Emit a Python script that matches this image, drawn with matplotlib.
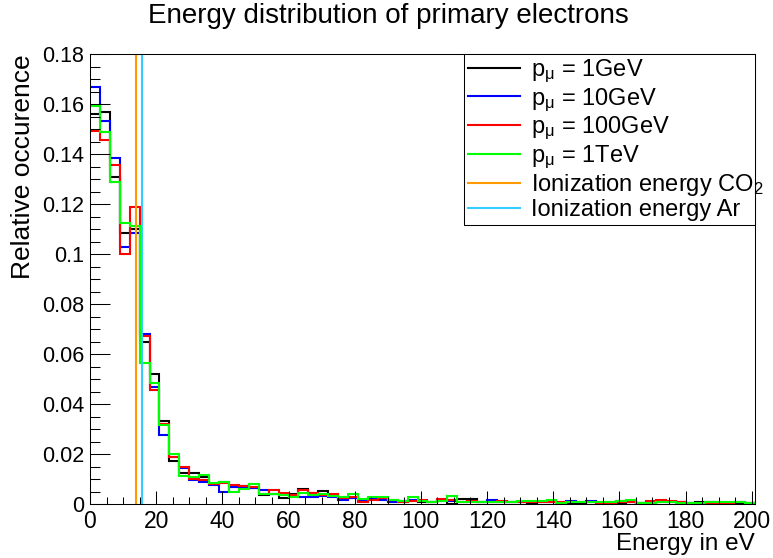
import numpy as np
import matplotlib
matplotlib.use('Agg')
import matplotlib.pyplot as plt
from matplotlib.ticker import MultipleLocator, FuncFormatter

plt.rcParams['font.family'] = ['Liberation Sans', 'DejaVu Sans']
plt.rcParams['mathtext.fontset'] = 'custom'
plt.rcParams['mathtext.rm'] = 'Liberation Sans'
plt.rcParams['mathtext.it'] = 'Liberation Sans'
plt.rcParams['mathtext.bf'] = 'Liberation Sans:bold'

# histogram binning: 3 eV bins from 0 to 201 eV
bin_edges = np.arange(0, 202, 3)

# relative occurence per bin
h_1gev = [0.1560, 0.1567, 0.1310, 0.1086, 0.1100, 0.0648, 0.0520, 0.0334, 0.0174, 0.0125,
          0.0124, 0.0108, 0.0083, 0.0090, 0.0070, 0.0072, 0.0067, 0.0036, 0.0040, 0.0026,
          0.0040, 0.0061, 0.0044, 0.0055, 0.0033, 0.0020, 0.0024, 0.0018, 0.0024, 0.0020,
          0.0011, 0.0011, 0.0013, 0.0011, 0.0011, 0.0014, 0.0003, 0.0021, 0.0020, 0.0011,
          0.0008, 0.0011, 0.0010, 0.0008, 0.0007, 0.0009, 0.0008, 0.0004, 0.0006, 0.0007,
          0.0008, 0.0005, 0.0007, 0.0006, 0.0008, 0.0005, 0.0006, 0.0009, 0.0011, 0.0009,
          0.0005, 0.0008, 0.0011, 0.0006, 0.0005, 0.0007, 0.0004]
h_10gev = [0.1667, 0.1533, 0.1383, 0.1030, 0.1086, 0.0681, 0.0470, 0.0277, 0.0190, 0.0144,
           0.0097, 0.0088, 0.0077, 0.0050, 0.0070, 0.0068, 0.0067, 0.0056, 0.0040, 0.0040,
           0.0035, 0.0030, 0.0028, 0.0033, 0.0028, 0.0017, 0.0024, 0.0017, 0.0020, 0.0017,
           0.0008, 0.0015, 0.0017, 0.0013, 0.0011, 0.0017, 0.0013, 0.0008, 0.0015, 0.0011,
           0.0017, 0.0011, 0.0009, 0.0010, 0.0011, 0.0009, 0.0008, 0.0006, 0.0013, 0.0009,
           0.0015, 0.0004, 0.0008, 0.0013, 0.0010, 0.0007, 0.0009, 0.0013, 0.0011, 0.0008,
           0.0006, 0.0005, 0.0009, 0.0008, 0.0006, 0.0008, 0.0006]
h_100gev = [0.1493, 0.1456, 0.1356, 0.1001, 0.1187, 0.0673, 0.0455, 0.0320, 0.0190, 0.0150,
            0.0101, 0.0097, 0.0080, 0.0085, 0.0076, 0.0072, 0.0070, 0.0040, 0.0056, 0.0044,
            0.0037, 0.0059, 0.0044, 0.0037, 0.0040, 0.0024, 0.0028, 0.0011, 0.0017, 0.0024,
            0.0017, 0.0011, 0.0013, 0.0017, 0.0011, 0.0021, 0.0017, 0.0011, 0.0013, 0.0011,
            0.0011, 0.0013, 0.0010, 0.0011, 0.0008, 0.0009, 0.0011, 0.0008, 0.0010, 0.0008,
            0.0009, 0.0006, 0.0007, 0.0009, 0.0008, 0.0007, 0.0013, 0.0017, 0.0015, 0.0011,
            0.0006, 0.0001, 0.0006, 0.0007, 0.0004, 0.0008, 0.0006]
h_1tev = [0.1592, 0.1489, 0.1290, 0.1126, 0.1112, 0.0564, 0.0485, 0.0317, 0.0201, 0.0113,
          0.0108, 0.0117, 0.0085, 0.0090, 0.0048, 0.0061, 0.0080, 0.0040, 0.0043, 0.0036,
          0.0030, 0.0045, 0.0037, 0.0040, 0.0033, 0.0028, 0.0040, 0.0020, 0.0031, 0.0031,
          0.0017, 0.0015, 0.0028, 0.0013, 0.0008, 0.0013, 0.0033, 0.0011, 0.0011, 0.0011,
          0.0011, 0.0008, 0.0010, 0.0013, 0.0015, 0.0013, 0.0017, 0.0007, 0.0011, 0.0011,
          0.0011, 0.0008, 0.0011, 0.0015, 0.0017, 0.0007, 0.0007, 0.0011, 0.0009, 0.0007,
          0.0004, 0.0007, 0.0008, 0.0008, 0.0011, 0.0011, 0.0007]

series = [
    (h_1gev, 'black', r'p$_{\mu}$ = 1GeV'),
    (h_10gev, '#0000ff', r'p$_{\mu}$ = 10GeV'),
    (h_100gev, '#ff0000', r'p$_{\mu}$ = 100GeV'),
    (h_1tev, '#00ff00', r'p$_{\mu}$ = 1TeV'),
]

# ionization energies in eV
e_ion_co2 = 13.77
e_ion_ar = 15.76

fig = plt.figure(figsize=(7.73, 5.58), dpi=100)
ax = fig.add_axes([90 / 773, 1 - 504.3 / 558, 665 / 773, 450.3 / 558])

lw = 1.5
for vals, col, lab in series:
    ax.stairs(vals, bin_edges, color=col, linewidth=lw, baseline=None, label=lab)

ax.axvline(e_ion_co2, color='#ff9900', linewidth=lw, label=r'Ionization energy CO$_2$')
ax.axvline(e_ion_ar, color='#33ccff', linewidth=lw, label='Ionization energy Ar')

ax.set_xlim(0, 201)
ax.set_ylim(0, 0.18)
ax.xaxis.set_major_locator(MultipleLocator(20))
ax.xaxis.set_minor_locator(MultipleLocator(5))
ax.yaxis.set_major_locator(MultipleLocator(0.02))
ax.yaxis.set_minor_locator(MultipleLocator(0.005))
ax.yaxis.set_major_formatter(FuncFormatter(lambda v, p: '%g' % round(v, 4)))
ax.set_xticks(np.arange(0, 201, 20))

ax.tick_params(axis='both', which='both', direction='in', top=False, right=False, width=0.75)
ax.tick_params(axis='x', which='major', length=9.7, labelsize=16.5, pad=4)
ax.tick_params(axis='x', which='minor', length=4.8)
ax.tick_params(axis='y', which='major', length=14.4, labelsize=15.5, pad=4)
ax.tick_params(axis='y', which='minor', length=7.2)
for sp in ax.spines.values():
    sp.set_linewidth(0.75)

ax.set_xlabel('Energy in eV', fontsize=17.5, loc='right', labelpad=0)
ax.set_ylabel('Relative occurence', fontsize=19, loc='top', labelpad=5)
fig.suptitle('Energy distribution of primary electrons', fontsize=20, x=0.502, y=0.994, va='top')

leg = ax.legend(loc='upper left', bbox_to_anchor=(0.563, 1.0, 0.437, 0.0), mode='expand',
                borderaxespad=0, fancybox=False, framealpha=1, edgecolor='black',
                fontsize=17, handlelength=2.2, handletextpad=0.45, labelspacing=0.05,
                borderpad=0.15)
leg.get_frame().set_linewidth(0.75)

fig.savefig('out.png', dpi=100)
